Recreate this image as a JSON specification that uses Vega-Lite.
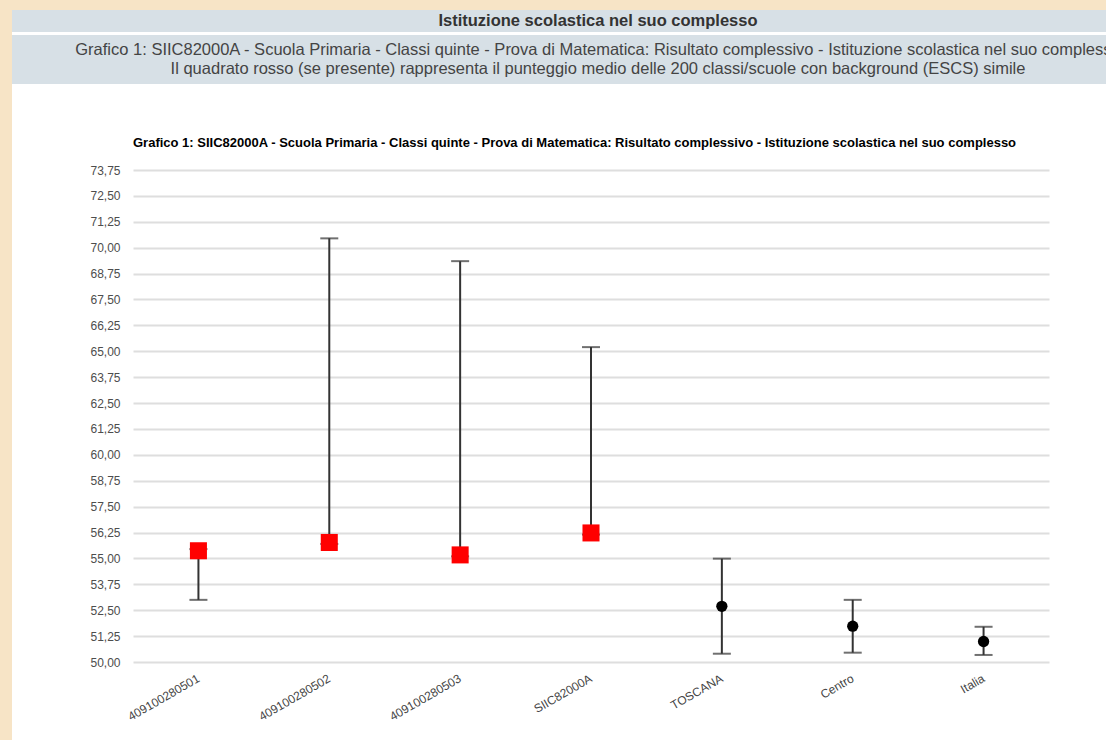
{
  "$schema": "https://vega.github.io/schema/vega-lite/v6.json",
  "background": "#ffffff",
  "padding": 0,
  "spacing": 0,
  "config": {
    "view": {"stroke": null},
    "font": "Liberation Sans",
    "locale": {"number": {"decimal": ",", "thousands": ".", "grouping": [3], "currency": ["", " €"]}},
    "axisY": {
      "title": null,
      "format": ".2f",
      "labelOverlap": false,
      "domain": false,
      "ticks": false,
      "labelPadding": 13,
      "minExtent": 120,
      "maxExtent": 120,
      "gridColor": "#dedede",
      "gridWidth": 2,
      "labelFont": "Liberation Sans",
      "labelFontSize": 12,
      "labelColor": "#4d4d4d"
    }
  },
  "vconcat": [
    {
      "width": 1184,
      "height": 10,
      "view": {"fill": "#f7e4c6", "stroke": null},
      "data": {"values": []},
      "mark": {"type": "point", "opacity": 0}
    },
    {
      "spacing": 0,
      "hconcat": [
        {
          "width": 12,
          "height": 730,
          "view": {"fill": "#f7e4c6", "stroke": null},
          "data": {"values": []},
          "mark": {"type": "point", "opacity": 0}
        },
        {
          "spacing": 53,
          "vconcat": [
            {
              "spacing": 3,
              "vconcat": [
                {
                  "width": 1172,
                  "height": 22,
                  "view": {"fill": "#d7e0e6", "stroke": null},
                  "data": {"values": [{"t": "Istituzione scolastica nel suo complesso"}]},
                  "mark": {"type": "text", "font": "Liberation Sans", "fontSize": 16.5, "fontWeight": "bold", "color": "#333333"},
                  "encoding": {"text": {"field": "t"}}
                },
                {
                  "width": 1172,
                  "height": 49,
                  "view": {"fill": "#d7e0e6", "stroke": null},
                  "data": {"values": [
                    {"line": 1, "t": "Grafico 1: SIIC82000A - Scuola Primaria - Classi quinte - Prova di Matematica: Risultato complessivo - Istituzione scolastica nel suo complesso"},
                    {"line": 2, "t": "Il quadrato rosso (se presente) rappresenta il punteggio medio delle 200 classi/scuole con background (ESCS) simile"}
                  ]},
                  "mark": {"type": "text", "font": "Liberation Sans", "fontSize": 16.5, "color": "#444444"},
                  "encoding": {
                    "text": {"field": "t"},
                    "y": {"field": "line", "type": "ordinal", "axis": null, "scale": {"type": "point", "padding": 0.86}}
                  }
                }
              ]
            },
            {
              "spacing": 0,
              "hconcat": [
                {
                  "width": 1,
                  "height": 1,
                  "view": {"fill": null, "stroke": null},
                  "data": {"values": []},
                  "mark": {"type": "point", "opacity": 0}
                },
                {
                  "width": 916,
                  "height": 492,
                  "title": {
                    "text": "Grafico 1: SIIC82000A - Scuola Primaria - Classi quinte - Prova di Matematica: Risultato complessivo - Istituzione scolastica nel suo complesso",
                    "anchor": "start",
                    "frame": "group",
                    "font": "Liberation Sans",
                    "fontSize": 13,
                    "fontWeight": "bold",
                    "color": "#000000",
                    "offset": 14
                  },
                  "data": {"values": [
                    {"cat": "409100280501", "value": 55.37, "low": 53.0, "high": 55.45, "kind": "scuola"},
                    {"cat": "409100280502", "value": 55.77, "low": 55.7, "high": 70.45, "kind": "scuola"},
                    {"cat": "409100280503", "value": 55.17, "low": 55.1, "high": 69.35, "kind": "scuola"},
                    {"cat": "SIIC82000A", "value": 56.23, "low": 56.15, "high": 65.2, "kind": "scuola"},
                    {"cat": "TOSCANA", "value": 52.69, "low": 50.4, "high": 54.99, "kind": "riferimento"},
                    {"cat": "Centro", "value": 51.73, "low": 50.45, "high": 53.0, "kind": "riferimento"},
                    {"cat": "Italia", "value": 50.99, "low": 50.34, "high": 51.7, "kind": "riferimento"}
                  ]},
                  "encoding": {
                    "x": {
                      "field": "cat",
                      "type": "nominal",
                      "sort": null,
                      "scale": {"type": "band", "paddingInner": 0, "paddingOuter": 0},
                      "axis": {
                        "title": null,
                        "labelAngle": -30,
                        "labelAlign": "right",
                        "labelBaseline": "middle",
                        "labelPadding": 15,
                        "labelOverlap": false,
                        "ticks": false,
                        "domain": false,
                        "grid": false,
                        "labelFont": "Liberation Sans",
                        "labelFontSize": 12,
                        "labelColor": "#444444"
                      }
                    }
                  },
                  "layer": [
                    {
                      "mark": {"type": "rule", "color": "#333333", "strokeWidth": 2},
                      "encoding": {
                        "y": {
                          "field": "low",
                          "type": "quantitative",
                          "scale": {"domain": [50, 73.75], "nice": false, "zero": false},
                          "axis": {"values": [50, 51.25, 52.5, 53.75, 55, 56.25, 57.5, 58.75, 60, 61.25, 62.5, 63.75, 65, 66.25, 67.5, 68.75, 70, 71.25, 72.5, 73.75]}
                        },
                        "y2": {"field": "high"}
                      }
                    },
                    {
                      "mark": {"type": "tick", "color": "#333333", "thickness": 2, "size": 18, "orient": "horizontal"},
                      "encoding": {"y": {"field": "low", "type": "quantitative", "scale": {"domain": [50, 73.75], "nice": false, "zero": false},
                        "axis": {"values": [50, 51.25, 52.5, 53.75, 55, 56.25, 57.5, 58.75, 60, 61.25, 62.5, 63.75, 65, 66.25, 67.5, 68.75, 70, 71.25, 72.5, 73.75]}}}
                    },
                    {
                      "mark": {"type": "tick", "color": "#333333", "thickness": 2, "size": 18, "orient": "horizontal"},
                      "encoding": {"y": {"field": "high", "type": "quantitative", "scale": {"domain": [50, 73.75], "nice": false, "zero": false},
                        "axis": {"values": [50, 51.25, 52.5, 53.75, 55, 56.25, 57.5, 58.75, 60, 61.25, 62.5, 63.75, 65, 66.25, 67.5, 68.75, 70, 71.25, 72.5, 73.75]}}}
                    },
                    {
                      "transform": [{"filter": "datum.kind == 'scuola'"}],
                      "mark": {"type": "point", "shape": "square", "filled": true, "color": "#ff0000", "opacity": 1, "size": 290},
                      "encoding": {"y": {"field": "value", "type": "quantitative", "scale": {"domain": [50, 73.75], "nice": false, "zero": false},
                        "axis": {"values": [50, 51.25, 52.5, 53.75, 55, 56.25, 57.5, 58.75, 60, 61.25, 62.5, 63.75, 65, 66.25, 67.5, 68.75, 70, 71.25, 72.5, 73.75]}}}
                    },
                    {
                      "transform": [{"filter": "datum.kind == 'riferimento'"}],
                      "mark": {"type": "point", "shape": "circle", "filled": true, "color": "#000000", "opacity": 1, "size": 127},
                      "encoding": {"y": {"field": "value", "type": "quantitative", "scale": {"domain": [50, 73.75], "nice": false, "zero": false},
                        "axis": {"values": [50, 51.25, 52.5, 53.75, 55, 56.25, 57.5, 58.75, 60, 61.25, 62.5, 63.75, 65, 66.25, 67.5, 68.75, 70, 71.25, 72.5, 73.75]}}}
                    }
                  ]
                }
              ]
            }
          ]
        }
      ]
    }
  ]
}
